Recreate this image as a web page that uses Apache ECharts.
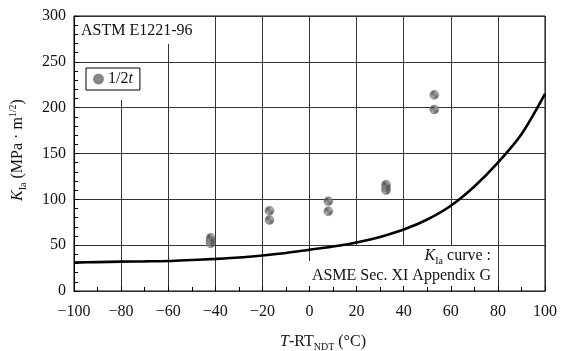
<!DOCTYPE html>
<html>
<head>
<meta charset="utf-8">
<script src="https://cdn.jsdelivr.net/npm/echarts@6/dist/echarts.min.js"></script>
<style>
  html, body { margin: 0; padding: 0; background: #fff; }
  #chart { width: 562px; height: 351px; }
</style>
</head>
<body>
<div id="chart"></div>
<script>
// K_Ia reference curve (ASME Sec. XI Appendix G)
const curveT = [-100, -90, -80, -70, -60, -50, -40, -30, -20, -10, 0, 10, 20, 30, 40, 50, 60, 70, 80, 90, 100];
const curveK = [31, 31.5, 32, 32.3, 32.7, 33.8, 35, 36.5, 38.8, 41.5, 45, 48.5, 53, 59, 67, 78, 93, 114, 140, 171, 215];

// 1/2t test results
const testT = [-42, -42, -42, -17, -17, 8, 8, 32.5, 32.5, 32.5, 53, 53];
const testK = [52, 55, 58, 77.5, 87.5, 87, 98, 110, 113, 116, 198, 214];

const xTicks = { min: -100, max: 100, step: 20 };
const yTicks = { min: 0, max: 300, step: 50 };

const FONT = '"Liberation Serif", "DejaVu Serif", serif';

// dithered grey fill for the markers
const pc = document.createElement('canvas');
pc.width = 2; pc.height = 2;
const pctx = pc.getContext('2d');
pctx.fillStyle = '#a8a8a8'; pctx.fillRect(0, 0, 2, 2);
pctx.fillStyle = '#2e2e2e'; pctx.fillRect(0, 0, 1, 1); pctx.fillRect(1, 1, 1, 1);

const chart = echarts.init(document.getElementById('chart'));

const minus = v => (v < 0 ? '\u2212' + (-v) : String(v));

const richBase = {
  i: { fontFamily: FONT, fontSize: 16, fontStyle: 'italic', color: '#111' },
  sub: { fontFamily: FONT, fontSize: 10, verticalAlign: 'bottom', color: '#111' },
  sup: { fontFamily: FONT, fontSize: 10, verticalAlign: 'top', color: '#111' }
};

const option = {
  animation: false,
  backgroundColor: '#fff',
  grid: {
    left: 74, right: 17, top: 16, bottom: 60,
    show: true, borderColor: '#000', borderWidth: 1, backgroundColor: 'transparent'
  },
  legend: {
    left: 86, top: 68,
    padding: [3, 7],
    backgroundColor: '#fff',
    borderColor: '#000',
    borderWidth: 1,
    borderRadius: 0,
    itemWidth: 9, itemHeight: 9, itemGap: 6,
    data: [{ name: 'half', icon: 'circle' }],
    formatter: () => '1/2{i|t}',
    textStyle: {
      fontFamily: FONT, fontSize: 16, color: '#111', lineHeight: 16,
      rich: { i: { fontFamily: FONT, fontSize: 16, fontStyle: 'italic', color: '#111' } }
    }
  },
  xAxis: {
    type: 'value', z: 0,
    min: xTicks.min, max: xTicks.max, interval: xTicks.step,
    axisLine: { onZero: false, lineStyle: { color: '#000', width: 1 } },
    axisTick: { inside: true, length: 5, lineStyle: { color: '#000' } },
    minorTick: { show: true, splitNumber: 2, length: 4, lineStyle: { color: '#000' } },
    splitLine: { show: true, lineStyle: { color: '#333', width: 1 } },
    axisLabel: { formatter: minus, fontFamily: FONT, fontSize: 16, color: '#111', margin: 13 }
  },
  yAxis: {
    type: 'value', z: 2,
    min: yTicks.min, max: yTicks.max, interval: yTicks.step,
    axisLine: { show: true, onZero: false, lineStyle: { color: '#000', width: 1 } },
    axisTick: { inside: true, length: 5, lineStyle: { color: '#000' } },
    minorTick: { show: true, splitNumber: 5, length: 4, lineStyle: { color: '#000' } },
    splitLine: { show: true, lineStyle: { color: '#333', width: 1 } },
    axisLabel: { fontFamily: FONT, fontSize: 16, color: '#111', margin: 8 }
  },
  graphic: {
    elements: [
      // white boxes behind the annotations (hide vertical grid lines)
      { type: 'rect', z: 1, shape: { x: 75, y: 17, width: 133, height: 27 }, style: { fill: '#fff' } },
      { type: 'rect', z: 1, shape: { x: 75, y: 44, width: 86, height: 56 }, style: { fill: '#fff' } },
      { type: 'rect', z: 1, shape: { x: 340, y: 246, width: 156, height: 16 }, style: { fill: '#fff' } },
      { type: 'rect', z: 1, shape: { x: 280, y: 261, width: 216, height: 25 }, style: { fill: '#fff' } },
      {
        type: 'text', z: 10, x: 81, y: 31,
        style: { text: 'ASTM E1221-96', font: '16px ' + FONT, fill: '#111', textVerticalAlign: 'middle' }
      },
      {
        type: 'text', z: 10, x: 491, y: 256,
        style: {
          text: '{i|K}{sub|Ia} curve :', font: '16px ' + FONT, fill: '#111',
          textAlign: 'right', textVerticalAlign: 'middle', lineHeight: 20, rich: richBase
        }
      },
      {
        type: 'text', z: 10, x: 491, y: 276,
        style: {
          text: 'ASME Sec. XI Appendix G', font: '16px ' + FONT, fill: '#111',
          textAlign: 'right', textVerticalAlign: 'middle'
        }
      },
      {
        type: 'text', z: 10, x: 323, y: 342,
        style: {
          text: '{i|T}-RT{sub|NDT} (°C)', font: '16px ' + FONT, fill: '#111',
          textAlign: 'center', textVerticalAlign: 'middle', lineHeight: 20, rich: richBase
        }
      },
      {
        type: 'text', z: 10, x: 18, y: 150, rotation: Math.PI / 2,
        style: {
          text: '{i|K}{sub|Ia} (MPa · m{sup|1/2})', font: '16px ' + FONT, fill: '#111',
          textAlign: 'center', textVerticalAlign: 'middle', lineHeight: 20, rich: richBase
        }
      }
    ]
  },
  series: [
    {
      name: 'curve',
      type: 'line',
      z: 3,
      data: curveT.map((t, i) => [t, curveK[i]]),
      smooth: 0.3,
      symbol: 'none',
      lineStyle: { color: '#000', width: 2.6 }
    },
    {
      name: 'half',
      type: 'scatter',
      z: 4,
      data: testT.map((t, i) => [t, testK[i]]),
      symbol: 'circle',
      symbolSize: 9,
      itemStyle: { color: { image: pc, repeat: 'repeat' }, borderColor: '#777', borderWidth: 0.5 }
    }
  ]
};

chart.setOption(option);
</script>
</body>
</html>
